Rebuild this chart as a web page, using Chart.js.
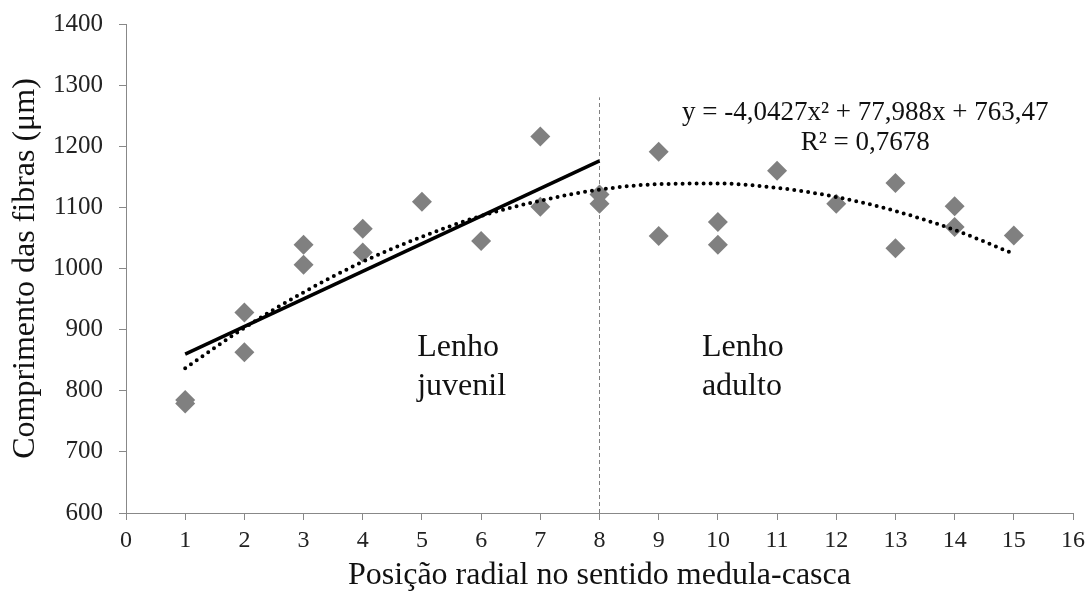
<!DOCTYPE html>
<html>
<head>
<meta charset="utf-8">
<script src="https://cdn.jsdelivr.net/npm/chart.js@4.4.0/dist/chart.umd.min.js"></script>
<style>
  html, body { margin: 0; padding: 0; background: #fff; }
  #wrap { width: 1091px; height: 598px; }
</style>
</head>
<body>
<div id="wrap"><canvas id="fiber-chart" width="1091" height="598"></canvas></div>
<script>
// posição radial (x) e comprimento das fibras (y)
var positionX = [1, 1, 2, 2, 3, 3, 4, 4, 5, 6, 7, 7, 8, 8, 9, 9, 10, 10, 11, 12, 13, 13, 14, 14, 15];
var fiberLength = [785, 779, 928, 863, 1039, 1006, 1065, 1026, 1109, 1045, 1216, 1101, 1121, 1106,
                   1191, 1053, 1076, 1039, 1160, 1106, 1140, 1033, 1102, 1068, 1054];

// linha reta do lenho juvenil
var linearX = [1, 8];
var linearY = [860, 1176];

// curva polinomial (pontilhada)
var polyX = [1, 2, 3, 4, 5, 6, 7, 8, 9, 10, 11, 12, 13, 14, 15];
var polyY = [837, 903, 961, 1011, 1052, 1086, 1111, 1129, 1138, 1139, 1132, 1117, 1094, 1063, 1024];

// divisa juvenil / adulto
var limitX = [8, 8];
var limitY = [600, 1280];

var xTicks = [0, 16];
var yTicks = [600, 1400];

function pairs(xs, ys) {
    return xs.map(function (x, i) { return {x: x, y: ys[i]}; });
}

var serif = "'Liberation Serif', serif";

var textPlugin = {
    id: 'notes',
    afterDatasetsDraw: function (chart) {
        var ctx = chart.ctx;
        var sx = chart.scales.x, sy = chart.scales.y;
        ctx.save();
        ctx.fillStyle = '#111';
        ctx.textBaseline = 'alphabetic';

        ctx.font = '27px ' + serif;
        ctx.textAlign = 'center';
        ctx.fillText('y = -4,0427x\u00b2 + 77,988x + 763,47', sx.getPixelForValue(12.49), sy.getPixelForValue(1243));
        ctx.fillText('R\u00b2 = 0,7678', sx.getPixelForValue(12.49), sy.getPixelForValue(1194));

        ctx.font = '32px ' + serif;
        ctx.textAlign = 'left';
        ctx.fillText('Lenho', sx.getPixelForValue(4.92), sy.getPixelForValue(857));
        ctx.fillText('juvenil', sx.getPixelForValue(4.92), sy.getPixelForValue(793));
        ctx.fillText('Lenho', sx.getPixelForValue(9.73), sy.getPixelForValue(857));
        ctx.fillText('adulto', sx.getPixelForValue(9.73), sy.getPixelForValue(793));
        ctx.restore();
    }
};

var ctx = document.getElementById('fiber-chart').getContext('2d');
var fiberChart = new Chart(ctx, {
    type: 'scatter',
    data: {
        datasets: [
            {
                label: 'limite',
                data: pairs(limitX, limitY),
                showLine: true,
                borderColor: '#808080',
                borderWidth: 1,
                borderDash: [4, 3],
                pointRadius: 0,
                order: 4
            },
            {
                label: 'observado',
                data: pairs(positionX, fiberLength),
                pointStyle: 'rectRot',
                pointRadius: 10,
                pointHoverRadius: 10,
                backgroundColor: '#808080',
                borderColor: '#808080',
                borderWidth: 0,
                order: 3
            },
            {
                label: 'linear',
                data: pairs(linearX, linearY),
                showLine: true,
                borderColor: '#000',
                borderWidth: 3.5,
                pointRadius: 0,
                order: 2
            },
            {
                label: 'polinomial',
                data: pairs(polyX, polyY),
                showLine: true,
                borderColor: '#000',
                borderWidth: 4,
                borderDash: [0, 7],
                borderCapStyle: 'round',
                cubicInterpolationMode: 'monotone',
                pointRadius: 0,
                order: 1
            }
        ]
    },
    options: {
        responsive: false,
        animation: false,
        layout: {padding: {top: 24, right: 18, left: 0, bottom: 0}},
        plugins: {legend: {display: false}, tooltip: {enabled: false}},
        scales: {
            x: {
                type: 'linear',
                min: xTicks[0],
                max: xTicks[1],
                ticks: {stepSize: 1, color: '#222', font: {family: serif, size: 24}, padding: 6,
                        callback: function (v) { return String(v); }},
                grid: {drawOnChartArea: false, drawTicks: true, tickLength: 7, color: '#888'},
                border: {color: '#888', width: 1},
                title: {display: true, text: 'Posição radial no sentido medula-casca', color: '#111',
                        font: {family: serif, size: 32}, padding: {top: 0, bottom: 3}},
                afterFit: function (scale) {
                    scale.height = 85;
                    scale.paddingLeft = 0;
                    scale.paddingRight = 0;
                }
            },
            y: {
                min: yTicks[0],
                max: yTicks[1],
                ticks: {stepSize: 100, color: '#222', font: {family: serif, size: 25}, padding: 16,
                        callback: function (v) { return String(v); }},
                grid: {drawOnChartArea: false, drawTicks: true, tickLength: 7, color: '#888'},
                border: {color: '#888', width: 1},
                title: {display: true, text: 'Comprimento das fibras (μm)', color: '#111',
                        font: {family: serif, size: 32}, padding: {top: 6, bottom: 0}},
                afterFit: function (scale) {
                    scale.width = 126;
                    scale.paddingTop = 0;
                    scale.paddingBottom = 0;
                }
            }
        }
    },
    plugins: [textPlugin]
});
</script>
</body>
</html>
